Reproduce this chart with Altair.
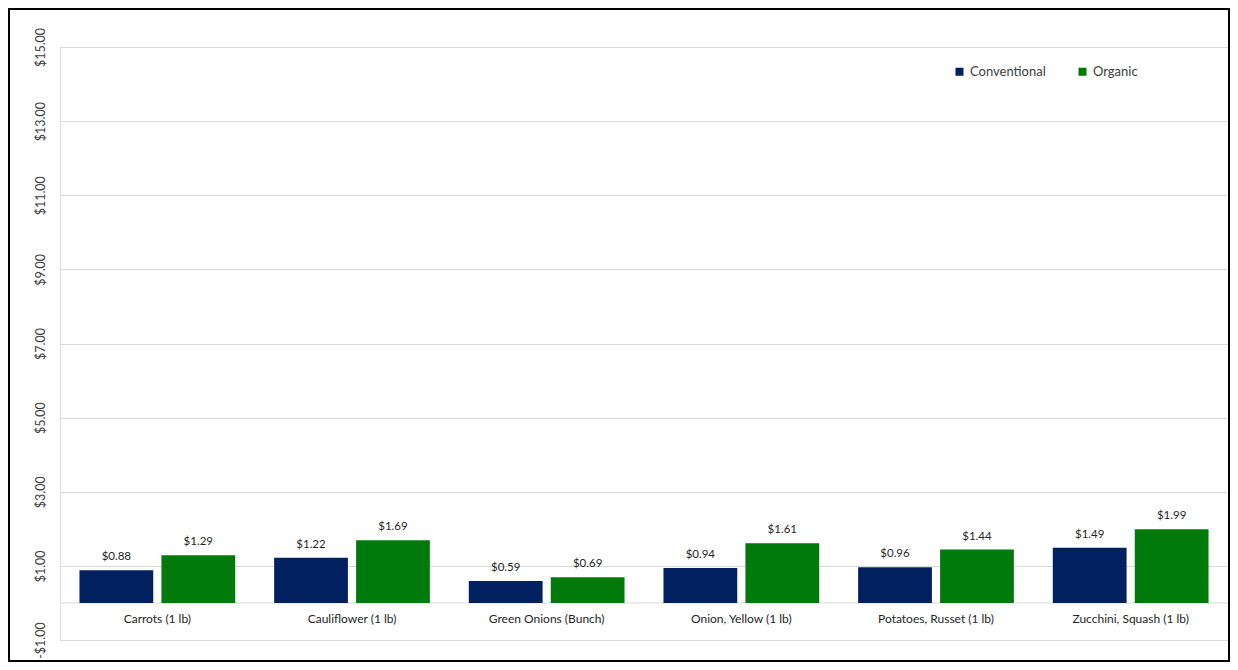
import altair as alt
import pandas as pd

categories = ["Carrots (1 lb)", "Cauliflower (1 lb)", "Green Onions (Bunch)",
              "Onion, Yellow (1 lb)", "Potatoes, Russet (1 lb)", "Zucchini, Squash (1 lb)"]
series = ["Conventional", "Organic"]
conventional = [0.88, 1.22, 0.59, 0.94, 0.96, 1.49]
organic = [1.29, 1.69, 0.69, 1.61, 1.44, 1.99]
y_ticks = [-1, 1, 3, 5, 7, 9, 11, 13, 15]
colors = ["#002060", "#007A0A"]

rows = []
for c, v in zip(categories, conventional):
    rows.append({"item": c, "type": series[0], "price": v})
for c, v in zip(categories, organic):
    rows.append({"item": c, "type": series[1], "price": v})
df = pd.DataFrame(rows)

W, H = 1168, 593
FONT = "Lato"

x_enc = alt.X("item:N", sort=categories,
              scale=alt.Scale(paddingInner=0.2, paddingOuter=0.1),
              axis=alt.Axis(title=None, orient="bottom", offset=-37, domain=False, ticks=False,
                            labelAngle=0, labelFont=FONT, labelFontSize=12,
                            labelColor="#262626", labelPadding=10))
xoff = alt.XOffset("type:N", sort=series, scale=alt.Scale(paddingInner=0.1))
y_scale = alt.Scale(domain=[-1, 15], nice=False, zero=False)

bars = alt.Chart(df).mark_bar().encode(
    x=x_enc,
    xOffset=xoff,
    y=alt.Y("price:Q", scale=y_scale,
            axis=alt.Axis(title=None, values=y_ticks, grid=True, gridColor="#d9d9d9",
                          domain=False, ticks=False, labelAngle=270, labelAlign="center",
                          labelBaseline="bottom", labelPadding=13, labelFont=FONT,
                          labelFontSize=12.5, labelColor="#404040",
                          labelExpr="datum.value < 0 ? '-$' + format(-datum.value, '.2f') : '$' + format(datum.value, '.2f')")),
    y2=alt.datum(0),
    color=alt.Color("type:N", sort=series,
                    scale=alt.Scale(domain=series, range=colors),
                    legend=alt.Legend(title=None, orient="none", legendX=893, legendY=18,
                                      direction="horizontal", symbolType="square",
                                      symbolSize=64, symbolStrokeWidth=0,
                                      labelFont=FONT, labelFontSize=13,
                                      labelColor="#404040", columnPadding=30,
                                      labelOffset=4)),
)

labels = alt.Chart(df).mark_text(baseline="bottom", dy=-8, font=FONT, fontSize=11.5,
                                 color="#262626").encode(
    x=alt.X("item:N", sort=categories),
    xOffset=xoff,
    y=alt.Y("price:Q", scale=y_scale),
    text=alt.Text("price:Q", format="$.2f"),
)

zero = alt.Chart(alt.Data(values=[{"z": 0}])).mark_rule(color="#d9d9d9", strokeWidth=1).encode(
    y=alt.Y("z:Q", scale=y_scale)
)

border = alt.Chart(alt.Data(values=[{"b": 1}])).mark_rect(
    fill=None, fillOpacity=0, stroke="black", strokeWidth=2
).encode(
    x=alt.value(-51), x2=alt.value(W + 1), y=alt.value(-38), y2=alt.value(H + 21)
)

chart = alt.layer(zero, bars, labels, border).properties(
    width=W, height=H,
    autosize=alt.AutoSizeParams(type="none"),
    padding={"left": 52, "top": 39, "right": 2, "bottom": 22},
).configure_view(stroke="#ececec").configure(background="white")

chart.save("out.html", embed_options={"renderer": "svg", "actions": False})
